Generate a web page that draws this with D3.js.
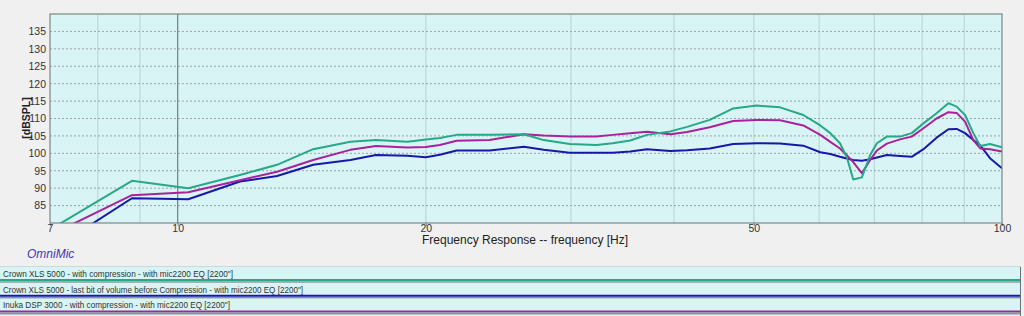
<!DOCTYPE html>
<html>
<head>
<meta charset="utf-8">
<script src="https://cdn.jsdelivr.net/npm/d3@7"></script>
<style>
  body { margin: 0; background: #f0f0f0; }
  svg { display: block; font-family: "Liberation Sans", Arial, sans-serif; }
</style>
</head>
<body>
<div class="chart"></div>
<script>
// frequencies (Hz)
var freqs = [7.0, 8.8, 10.3, 11.9, 13.2, 14.6, 16.2, 17.4, 19.0, 20.0, 20.8, 21.8, 23.9, 26.3, 27.8,
             29.9, 32.2, 33.7, 35.4, 37.1, 39.6, 41.5, 44.2, 47.2, 50.4, 53.8, 57.4, 60.2, 61.9,
             63.6, 64.8, 66.0, 67.6, 69.2, 70.5, 72.5, 75.2, 77.7, 80.3, 83.3, 86.1, 88.1, 90.2,
             92.3, 94.1, 96.7, 100];

// Crown XLS 5000 - with compression
var crownComp = [78.1, 92.1, 90.0, 93.8, 96.7, 101.2, 103.3, 103.8, 103.3, 104.0, 104.4, 105.3, 105.3, 105.5, 103.8,
                 102.7, 102.4, 102.9, 103.7, 105.3, 106.3, 107.6, 109.6, 112.9, 113.7, 113.2, 111.0, 108.0, 105.8,
                 102.9, 99.0, 92.5, 93.1, 99.5, 102.9, 104.8, 104.8, 105.8, 108.6, 111.5, 114.4, 113.4, 111.0,
                 105.8, 102.1, 102.7, 101.7];

// Crown XLS 5000 - last bit of volume before compression
var crownLast = [72.0, 87.1, 86.8, 91.9, 93.5, 96.7, 98.1, 99.5, 99.3, 98.9, 99.6, 100.8, 100.8, 101.9, 101.0,
                 100.2, 100.2, 100.2, 100.5, 101.2, 100.7, 100.9, 101.4, 102.7, 102.9, 102.8, 102.2, 100.3, 99.8,
                 99.0, 98.5, 98.1, 97.9, 98.3, 98.8, 99.5, 99.2, 99.0, 101.2, 104.5, 106.9, 107.0, 105.8,
                 103.8, 102.3, 98.6, 95.7];

// Inuka DSP 3000 - with compression
var inuka = [76.5, 88.0, 88.8, 92.3, 94.7, 98.1, 101.0, 102.1, 101.7, 101.8, 102.4, 103.6, 103.8, 105.5, 105.1,
             104.8, 104.8, 105.3, 105.8, 106.2, 105.5, 106.1, 107.5, 109.3, 109.6, 109.5, 108.0, 105.3, 103.3,
             101.4, 99.5, 97.5, 94.3, 98.1, 100.8, 102.8, 104.0, 104.8, 107.2, 110.0, 111.8, 111.6, 109.1,
             103.8, 101.4, 101.2, 100.5];

var yTicks = [85, 90, 95, 100, 105, 110, 115, 120, 125, 130, 135];
var xTicks = [7, 10, 20, 50, 100];
var xGrid = [8, 9, 20, 30, 40, 50, 60, 70, 80, 90];

var seriesNames = [
  "Crown XLS 5000 -  with compression - with mic2200 EQ [2200\"]",
  "Crown XLS 5000 - last bit of volume before Compression - with mic2200 EQ [2200\"]",
  "Inuka DSP 3000 - with compression - with mic2200 EQ [2200\"]"
];
var seriesColors = ["#27a886", "#1818a8", "#a8229e"];
var seriesData = [crownComp, crownLast, inuka];

var W = 1024, H = 316;
var margin = {left: 50, right: 1002, top: 14, bottom: 223};

var svg = d3.select(".chart").append("svg")
    .attr("width", W).attr("height", H);

svg.append("rect").attr("width", W).attr("height", H).attr("fill", "#f0f0f0");

var x = d3.scaleLog().domain([7, 100]).range([margin.left, margin.right]);
var y = d3.scaleLinear().domain([80, 140]).range([margin.bottom, margin.top]);
var pw = margin.right - margin.left, ph = margin.bottom - margin.top;

// plot background
svg.append("rect")
    .attr("x", margin.left).attr("y", margin.top)
    .attr("width", pw).attr("height", ph)
    .attr("fill", "#d8f4f4");

// vertical grid
svg.selectAll(".vgrid")
  .data(xGrid)
  .enter().append("line")
    .attr("x1", function(d) { return x(d); })
    .attr("x2", function(d) { return x(d); })
    .attr("y1", margin.top).attr("y2", margin.bottom)
    .attr("stroke", "#b4d4d8").attr("stroke-width", 1);

// the 10 Hz line is darker
svg.append("line")
    .attr("x1", x(10)).attr("x2", x(10))
    .attr("y1", margin.top).attr("y2", margin.bottom)
    .attr("stroke", "#6e7e80").attr("stroke-width", 1.2);

// horizontal dashed grid
svg.selectAll(".hgrid")
  .data(yTicks)
  .enter().append("line")
    .attr("x1", margin.left).attr("x2", margin.right)
    .attr("y1", function(d) { return y(d); })
    .attr("y2", function(d) { return y(d); })
    .attr("stroke", "#9aa6a8").attr("stroke-width", 1)
    .attr("stroke-dasharray", "2,2");

// curves, clipped to plot
svg.append("clipPath").attr("id", "plotclip")
  .append("rect")
    .attr("x", margin.left).attr("y", margin.top)
    .attr("width", pw).attr("height", ph);

var line = d3.line()
    .x(function(d) { return x(d[0]); })
    .y(function(d) { return y(d[1]); });

var drawOrder = [1, 2, 0];
drawOrder.forEach(function(i) {
  svg.append("path")
      .datum(freqs.map(function(f, j) { return [f, seriesData[i][j]]; }))
      .attr("clip-path", "url(#plotclip)")
      .attr("fill", "none")
      .attr("stroke", seriesColors[i])
      .attr("stroke-width", 2)
      .attr("stroke-linejoin", "round")
      .attr("d", line);
});

// frame
svg.append("rect")
    .attr("x", margin.left).attr("y", margin.top)
    .attr("width", pw).attr("height", ph)
    .attr("fill", "none").attr("stroke", "#7c8888").attr("stroke-width", 1.2);

// y axis
var yAxis = svg.append("g")
    .attr("transform", "translate(" + (margin.left - 4) + ",0)")
    .call(d3.axisLeft(y).tickValues(yTicks).tickSize(0).tickPadding(0));
yAxis.select(".domain").remove();
yAxis.selectAll("text").attr("font-size", 10.5).attr("fill", "#333")
    .attr("font-family", "'Liberation Sans', Arial, sans-serif");

// x axis
var xAxis = svg.append("g")
    .attr("transform", "translate(0," + margin.bottom + ")")
    .call(d3.axisBottom(x).tickValues(xTicks).tickSize(3).tickPadding(-1)
          .tickFormat(d3.format("d")));
xAxis.select(".domain").remove();
xAxis.selectAll("line").attr("stroke", "#7c8888");
xAxis.selectAll("text").attr("font-size", 10.5).attr("fill", "#333")
    .attr("font-family", "'Liberation Sans', Arial, sans-serif");

// axis titles
svg.append("text")
    .attr("x", 525).attr("y", 244)
    .attr("text-anchor", "middle")
    .attr("font-size", 12).attr("fill", "#222")
    .text("Frequency Response -- frequency [Hz]");

svg.append("text")
    .attr("transform", "translate(30,118) rotate(-90)")
    .attr("text-anchor", "middle")
    .attr("font-size", 10.5).attr("font-weight", "bold").attr("fill", "#222")
    .text("[dBSPL]");

svg.append("text")
    .attr("x", 27).attr("y", 258)
    .attr("font-size", 12).attr("font-style", "italic").attr("fill", "#4436b4")
    .text("OmniMic");

// legend strips
var rowTop = 267, rowH = 15.7;
var labelWidths = [230, 300, 227];
var rows = svg.selectAll(".legrow")
  .data(seriesNames)
  .enter().append("g")
    .attr("transform", function(d, i) { return "translate(0," + (rowTop + i * rowH) + ")"; });

rows.append("rect")
    .attr("x", 0).attr("y", 0).attr("width", 1021).attr("height", rowH)
    .attr("fill", "#d8f4f4");

rows.append("text")
    .attr("x", 3).attr("y", 10)
    .attr("font-size", 9.5).attr("fill", "#333")
    .attr("textLength", function(d, i) { return labelWidths[i]; })
    .attr("lengthAdjust", "spacingAndGlyphs")
    .text(function(d) { return d; });

rows.append("line")
    .attr("x1", 0).attr("x2", 1021)
    .attr("y1", 13).attr("y2", 13)
    .attr("stroke", function(d, i) { return seriesColors[i]; })
    .attr("stroke-width", 2);

rows.append("line")
    .attr("x1", 0).attr("x2", 1021)
    .attr("y1", rowH - 0.5).attr("y2", rowH - 0.5)
    .attr("stroke", "#86969a").attr("stroke-width", 2);

svg.append("line")
    .attr("x1", 0).attr("x2", 1021)
    .attr("y1", rowTop - 0.5).attr("y2", rowTop - 0.5)
    .attr("stroke", "#cfd8d8").attr("stroke-width", 1);

svg.append("line")
    .attr("x1", 1020.5).attr("x2", 1020.5)
    .attr("y1", rowTop).attr("y2", H)
    .attr("stroke", "#6a7474").attr("stroke-width", 1);
</script>
</body>
</html>
